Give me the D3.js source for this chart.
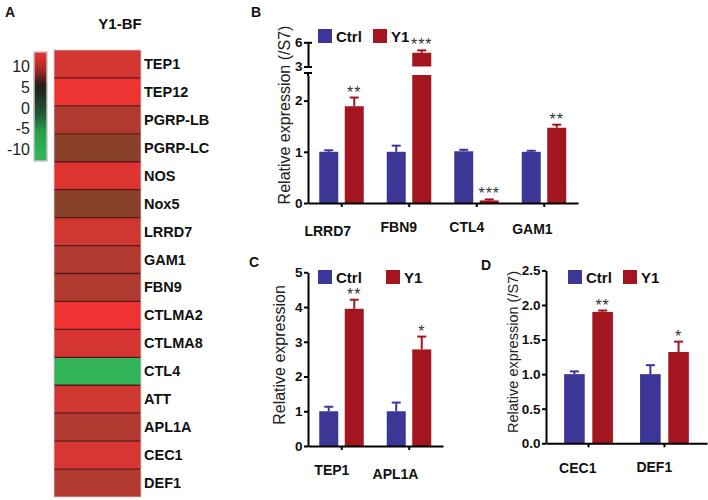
<!DOCTYPE html>
<html><head><meta charset="utf-8">
<script src="https://cdn.jsdelivr.net/npm/d3@7"></script>
<style>
body{margin:0;background:#fff;}
svg{display:block;font-family:"Liberation Sans",Arial,sans-serif;}
</style></head>
<body><svg id="c" width="708" height="500"></svg>
<script>
// ---------- data ----------
const heatGenes = ["TEP1","TEP12","PGRP-LB","PGRP-LC","NOS","Nox5","LRRD7","GAM1","FBN9","CTLMA2","CTLMA8","CTL4","ATT","APL1A","CEC1","DEF1"];
const heatValues = [8.9,9.95,7.45,5,9.35,5,8.7,7.5,7.45,10,8.97,-10,8.7,7.5,9.0,7.55];
const heatColumn = "Y1-BF";
const legendTicks = [10,5,0,-5,-10];

const groups = ["Ctrl","Y1"];

const bGenes = ["LRRD7","FBN9","CTL4","GAM1"];
const bCtrl = [1.0,1.0,1.01,1.0];
const bCtrlErr = [0.03,0.12,0.03,0.02];
const bY1 = [1.89,4.7,0.05,1.47];
const bY1Err = [0.17,0.3,0.02,0.06];
const bSig = ["**","***","***","**"];
const bTicksLow = [0,1,2];
const bTicksHigh = [3,6];

const cGenes = ["TEP1","APL1A"];
const cCtrl = [1.0,1.0];
const cCtrlErr = [0.13,0.25];
const cY1 = [3.95,2.78];
const cY1Err = [0.26,0.37];
const cSig = ["**","*"];
const cTicks = [0,1,2,3,4,5];

const dGenes = ["CEC1","DEF1"];
const dCtrl = [1.0,1.0];
const dCtrlErr = [0.04,0.13];
const dY1 = [1.9,1.32];
const dY1Err = [0.02,0.15];
const dSig = ["**","*"];
const dTicks = [0,0.5,1.0,1.5,2.0,2.5];

// ---------- style ----------
const COL = {Ctrl:"#3c3797", Y1:"#a3161f"};
const svg = d3.select("#c");
svg.append("rect").attr("width",708).attr("height",500).attr("fill","#fff");
const defs = svg.append("defs");

function panelLabel(t,x,y){
  svg.append("text").attr("x",x).attr("y",y).text(t)
    .attr("font-size",14).attr("font-weight","bold").attr("fill","#111");
}

// ---------- Panel A ----------
panelLabel("A",5,17);
const heatColor = d3.scaleLinear().domain([-10,0,5,7.5,10])
  .range(["#33b357","#1e2a1f","#8a412a","#b23a30","#ef3333"]).clamp(true);
const yH = d3.scaleBand().domain(heatGenes).range([50,497]);
const hx0 = 54, hx1 = 141;
const gA = svg.append("g");
gA.selectAll("rect.cell").data(heatGenes).join("rect").attr("class","cell")
  .attr("x",hx0).attr("y",d=>yH(d)).attr("width",hx1-hx0).attr("height",yH.bandwidth())
  .attr("fill",(d,i)=>heatColor(heatValues[i]));
gA.selectAll("line.sep").data(heatGenes.slice(1)).join("line").attr("class","sep")
  .attr("x1",hx0).attr("x2",hx1).attr("y1",d=>yH(d)).attr("y2",d=>yH(d))
  .attr("stroke","#5a1818").attr("stroke-width",1.3);
gA.append("rect").attr("x",hx0).attr("y",50).attr("width",hx1-hx0).attr("height",447)
  .attr("fill","none").attr("stroke","#cfcfcf").attr("stroke-width",0.8);
gA.selectAll("text.gene").data(heatGenes).join("text").attr("class","gene")
  .attr("x",144).attr("y",d=>yH(d)+yH.bandwidth()/2+5).text(d=>d)
  .attr("font-size",14.5).attr("font-weight","bold").attr("fill","#111");
gA.append("text").attr("x",120).attr("y",29).attr("text-anchor","middle")
  .text(heatColumn).attr("font-size",15).attr("font-weight","bold").attr("fill","#111");

// legend
const grad = defs.append("linearGradient").attr("id","lg").attr("x1",0).attr("x2",0).attr("y1",0).attr("y2",1);
[[0,"#e83333"],[0.073,"#d23030"],[0.165,"#a02828"],[0.24,"#622020"],[0.30,"#2a1f1a"],
 [0.37,"#1c2a1f"],[0.44,"#1e3a26"],[0.58,"#215c37"],[0.72,"#289a4a"],[0.9,"#2db356"],[1,"#31b658"]]
 .forEach(s=>grad.append("stop").attr("offset",s[0]).attr("stop-color",s[1]));
svg.append("rect").attr("x",34).attr("y",52).attr("width",13).attr("height",109)
  .attr("fill","url(#lg)").attr("stroke","#c4c4c4").attr("stroke-width",1.5);
const yLeg = d3.scaleLinear().domain([10,-10]).range([66,149]);
svg.selectAll("text.lt").data(legendTicks).join("text").attr("class","lt")
  .attr("x",30).attr("y",d=>yLeg(d)+6).attr("text-anchor","end").text(d=>d)
  .attr("font-size",16).attr("fill","#222");

// ---------- bar helpers ----------
function styleAxis(g){
  g.selectAll("path.domain").attr("stroke","#000").attr("stroke-width",2);
  g.selectAll(".tick line").attr("stroke","#000").attr("stroke-width",2);
  g.selectAll(".tick text").attr("font-size",13.5).attr("font-weight","bold")
    .attr("fill","#111").attr("font-family","Liberation Sans, Arial, sans-serif");
}
function legend(x1,x2,y,size){
  [[groups[0],x1],[groups[1],x2]].forEach(([gname,x])=>{
    svg.append("rect").attr("x",x).attr("y",y).attr("width",14).attr("height",14).attr("fill",COL[gname]);
    svg.append("text").attr("x",x+18).attr("y",y+12.5).text(gname)
      .attr("font-size",size).attr("font-weight","bold").attr("fill","#111");
  });
}
function yTitle(t,x,y,size){
  svg.append("text").attr("transform",`translate(${x},${y}) rotate(-90)`)
    .attr("text-anchor","middle").text(t).attr("font-size",size).attr("fill","#222");
}
function xAxis(x,y0){
  const g = svg.append("g").attr("transform",`translate(0,${y0})`)
    .call(d3.axisBottom(x).tickSize(4).tickSizeOuter(0).tickFormat(""));
  styleAxis(g);
  // labels centred where the original slanted labels sit (lower-left of each tick)
  x.domain().forEach(d=>{
    const cx0 = x(d)+x.bandwidth()/2;
    const t = svg.append("text").attr("text-anchor","middle").text(d)
      .attr("font-size",14).attr("font-weight","bold").attr("fill","#111");
    const L = t.node().getComputedTextLength();
    const cx = cx0 + 2.5 - 0.354*L, cy = y0 + 11.5 + 0.354*L;
    t.attr("x",cx).attr("y",cy+5);
  });
  return g;
}
function star(t,x,yc){
  svg.append("text").attr("x",x).attr("y",yc+9).attr("text-anchor","middle").text(t)
    .attr("font-size",16).attr("letter-spacing",1).attr("fill","#333");
}
function yAxis(scale,x0,ticks,fmt){
  const g = svg.append("g").attr("transform",`translate(${x0},0)`)
    .call(d3.axisLeft(scale).tickValues(ticks).tickSize(4).tickPadding(1.5).tickSizeOuter(0).tickFormat(d3.format(fmt)));
  styleAxis(g);
  return g;
}
function drawBars(x,sub,yScale,genes,ctrl,ctrlErr,y1,y1Err,sig,baseY){
  genes.forEach((g,i)=>{
    const series = [[ "Ctrl",ctrl[i],ctrlErr[i]],["Y1",y1[i],y1Err[i]]];
    series.forEach(([gname,v,e])=>{
      const bx = x(g)+x.bandwidth()/2+sub(gname);
      const w = sub.bandwidth();
      const yv = yScale(v), ye = yScale(v+e);
      svg.append("rect").attr("x",bx).attr("y",yv).attr("width",w).attr("height",baseY-yv).attr("fill",COL[gname]);
      svg.append("line").attr("x1",bx+w/2).attr("x2",bx+w/2).attr("y1",yv).attr("y2",ye)
        .attr("stroke",COL[gname]).attr("stroke-width",2);
      svg.append("line").attr("x1",bx+w/2-4.5).attr("x2",bx+w/2+4.5).attr("y1",ye).attr("y2",ye)
        .attr("stroke",COL[gname]).attr("stroke-width",2);
    });
    star(sig[i], x(g)+x.bandwidth()/2+sub("Y1")+sub.bandwidth()/2, yScale(y1[i]+y1Err[i])-9);
  });
}

// ---------- Panel B ----------
panelLabel("B",251,17);
const xB = d3.scaleBand().domain(bGenes).range([308,578]);
const subB = d3.scaleBand().domain(groups).range([-22.5,22]).paddingInner(0.255);
const yBlo = d3.scaleLinear().domain([0,2.5]).range([203,75]);
const yBhi = d3.scaleLinear().domain([3,6]).range([66.5,42.3]);
bGenes.forEach((g,i)=>{
  [["Ctrl",bCtrl[i],bCtrlErr[i]],["Y1",bY1[i],bY1Err[i]]].forEach(([gname,v,e])=>{
    const bx = xB(g)+xB.bandwidth()/2+subB(gname), w = subB.bandwidth();
    let top, ytop;
    if(v<=2.5){
      svg.append("rect").attr("x",bx).attr("y",yBlo(v)).attr("width",w).attr("height",203-yBlo(v)).attr("fill",COL[gname]);
      top = yBlo(v); ytop = yBlo(v+e);
    } else {
      svg.append("rect").attr("x",bx).attr("y",yBlo(2.5)).attr("width",w).attr("height",203-yBlo(2.5)).attr("fill",COL[gname]);
      svg.append("rect").attr("x",bx).attr("y",yBhi(v)).attr("width",w).attr("height",yBhi(3)-yBhi(v)).attr("fill",COL[gname]);
      top = yBhi(v); ytop = yBhi(v+e);
    }
    svg.append("line").attr("x1",bx+w/2).attr("x2",bx+w/2).attr("y1",top).attr("y2",ytop).attr("stroke",COL[gname]).attr("stroke-width",2);
    svg.append("line").attr("x1",bx+w/2-4.5).attr("x2",bx+w/2+4.5).attr("y1",ytop).attr("y2",ytop).attr("stroke",COL[gname]).attr("stroke-width",2);
    if(gname==="Y1") star(bSig[i], bx+w/2, ytop-9);
  });
});
yAxis(yBlo,308,bTicksLow,"d");
svg.append("line").attr("x1",304).attr("x2",312).attr("y1",73).attr("y2",73).attr("stroke","#000").attr("stroke-width",2);
svg.append("line").attr("x1",308).attr("x2",308).attr("y1",73).attr("y2",76).attr("stroke","#000").attr("stroke-width",2);
const gBhi = yAxis(yBhi,308,bTicksHigh,"d");
gBhi.selectAll(".tick line").attr("x1",4);
xAxis(xB,203);
legend(318,373,29,15);
yTitle("Relative expression (/S7)",290,115,16);

// ---------- Panel C ----------
panelLabel("C",249,267);
const xC = d3.scaleBand().domain(cGenes).range([308,443]);
const yC = d3.scaleLinear().domain([0,5]).range([446,272.3]);
drawBars(xC,subB,yC,cGenes,cCtrl,cCtrlErr,cY1,cY1Err,cSig,446);
yAxis(yC,308,cTicks,"d");
xAxis(xC,446);
legend(318,386,270,15);
yTitle("Relative expression",285,355,16);

// ---------- Panel D ----------
panelLabel("D",481,270);
const xD = d3.scaleBand().domain(dGenes).range([546,707]).paddingOuter(0.06);
const subD = d3.scaleBand().domain(groups).range([-24.4,24.4]).paddingInner(0.27);
const yD = d3.scaleLinear().domain([0,2.5]).range([443.3,270.4]);
drawBars(xD,subD,yD,dGenes,dCtrl,dCtrlErr,dY1,dY1Err,dSig,443.3);
yAxis(yD,546,dTicks,".1f");
xAxis(xD,443.3);
legend(568,623,270,15);
yTitle("Relative expression (/S7)",518,352,14.5);
</script>
</body></html>
